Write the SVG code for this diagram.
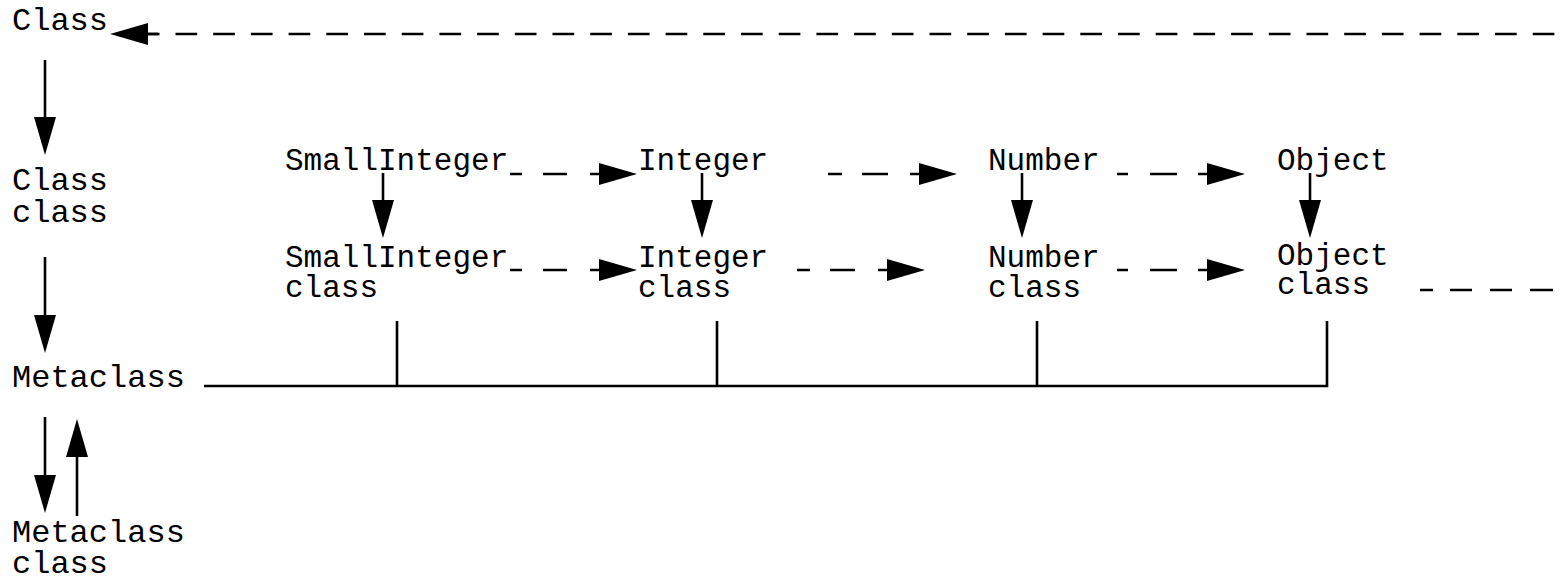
<svg xmlns="http://www.w3.org/2000/svg" width="1568" height="577" viewBox="0 0 1568 577">
<style>
  text { font-family: "Liberation Mono", "Courier New", monospace; fill: #000; }
  .l { font-size: 32px; }
  .m { font-size: 31px; }
  .ln { fill: none; stroke: #000; stroke-width: 2.6; stroke-linecap: butt; }
  .arr { marker-end: url(#head); }
  .dash { stroke-dasharray: 21.7 16; }
</style>
<defs>
  <marker id="head" viewBox="0 0 38 22" refX="8" refY="11" markerWidth="38" markerHeight="22" markerUnits="userSpaceOnUse" orient="auto">
    <path d="M0,0 L38,11 L0,22 Z" fill="#000"/>
  </marker>
</defs>
<rect width="1568" height="577" fill="#fff"/>

<g id="node-class"><text class="l" x="12" y="30">Class</text></g>
<g id="node-class-class"><text class="l" x="12" y="190">Class</text><text class="l" x="12" y="222">class</text></g>
<g id="node-metaclass"><text class="l" x="12" y="387">Metaclass</text></g>
<g id="node-metaclass-class"><text class="l" x="12" y="542">Metaclass</text><text class="l" x="12" y="573">class</text></g>

<g id="node-smallinteger"><text class="m" x="285" y="170">SmallInteger</text></g>
<g id="node-integer"><text class="m" x="638" y="170">Integer</text></g>
<g id="node-number"><text class="m" x="988" y="170">Number</text></g>
<g id="node-object"><text class="m" x="1277" y="170">Object</text></g>

<g id="node-smallinteger-class"><text class="m" x="285" y="267">SmallInteger</text><text class="m" x="285" y="297">class</text></g>
<g id="node-integer-class"><text class="m" x="638" y="267">Integer</text><text class="m" x="638" y="297">class</text></g>
<g id="node-number-class"><text class="m" x="988" y="267">Number</text><text class="m" x="988" y="297">class</text></g>
<g id="node-object-class"><text class="m" x="1277" y="265">Object</text><text class="m" x="1277" y="294">class</text></g>

<g id="connectors">
  <!-- top dashed arrow into Class -->
  <path class="ln dash" d="M1554.4,34 H148"/>
  <path class="ln arr" d="M158,34 H140"/>

  <!-- left column vertical arrows -->
  <path class="ln arr" d="M45,60 V125"/>
  <path class="ln arr" d="M45,257 V323"/>
  <path class="ln arr" d="M45,417 V483"/>
  <path class="ln arr" d="M77,516 V449"/>

  <!-- instance-of arrows -->
  <path class="ln arr" d="M383,173 V208"/>
  <path class="ln arr" d="M702,173 V208"/>
  <path class="ln arr" d="M1022,173 V208"/>
  <path class="ln arr" d="M1310,173 V208"/>

  <!-- superclass dashed arrows, top row -->
  <path class="ln arr" d="M510,174 H522 M543,174 H567 M590,174 H607"/>
  <path class="ln arr" d="M828,174 H842 M862,174 H888 M910,174 H927"/>
  <path class="ln arr" d="M1117,174 H1128 M1150,174 H1177 M1198,174 H1215"/>

  <!-- superclass dashed arrows, class row -->
  <path class="ln arr" d="M510,270 H522 M543,270 H567 M590,270 H607"/>
  <path class="ln arr" d="M797,270 H810 M830,270 H855 M878,270 H895"/>
  <path class="ln arr" d="M1117,270 H1128 M1150,270 H1177 M1198,270 H1215"/>

  <!-- Object class trailing dashes -->
  <path class="ln" d="M1420,290 H1433 M1450,290 H1472 M1490,290 H1512 M1530,290 H1553"/>

  <!-- Metaclass bus -->
  <path class="ln" stroke-linejoin="miter" d="M204,386 H1327 V321 M397,386 V321 M717,386 V321 M1037,386 V321"/>
</g>
</svg>
